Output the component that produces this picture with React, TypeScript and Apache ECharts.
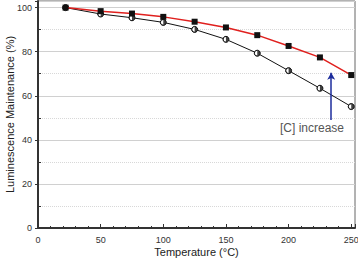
import React, { useEffect, useRef } from "react";
import * as echarts from "echarts";

const temps = [22, 50, 75, 100, 125, 150, 175, 200, 225, 250];
const redValues = [100, 98.4, 97.3, 95.8, 93.6, 91.0, 87.5, 82.6, 77.4, 69.4];
const blackValues = [100, 97.1, 95.4, 93.3, 90.1, 85.6, 79.3, 71.4, 63.4, 55.1];
const arrowX = 234;
const arrowFrom = 49;
const arrowTo = 70.5;
const annotation = "[C] increase";

const halfCircle =
  "path://M0,-5 A5,5 0 1,1 0,5 A5,5 0 1,1 0,-5 Z M0,-4 A4,4 0 1,0 0,4 A4,4 0 1,0 0,-4 Z M0,-4 A4,4 0 0,1 0,4 Z";

export default function App() {
  const ref = useRef<HTMLDivElement>(null);
  useEffect(() => {
    if (!ref.current) return;
    const chart = echarts.init(ref.current, null, { renderer: "svg" });
    const font = "Liberation Sans, Arial, sans-serif";
    chart.setOption({
      animation: false,
      textStyle: { fontFamily: font },
      grid: {
        left: 38,
        right: 3,
        top: 1,
        bottom: 36,
        containLabel: false,
        outerBoundsMode: "none",
        show: true,
        borderColor: "#666",
        borderWidth: 1,
      },
      xAxis: {
        type: "value",
        min: 0,
        max: 253,
        interval: 50,
        name: "Temperature (°C)",
        nameLocation: "middle",
        nameGap: 18,
        nameMoveOverlap: false,
        nameTextStyle: { fontSize: 11, color: "#222", fontFamily: font },
        axisLine: { show: true, lineStyle: { color: "#333", width: 2 } },
        axisTick: { show: true, inside: true, length: 4, lineStyle: { color: "#333" } },
        minorTick: { show: true, splitNumber: 5, length: 2, lineStyle: { color: "#333" } },
        axisLabel: { fontSize: 9, color: "#333", showMaxLabel: false, margin: 7 },
        splitLine: { show: false },
      },
      yAxis: {
        type: "value",
        min: 0,
        max: 103,
        interval: 20,
        name: "Luminescence Maintenance (%)",
        nameLocation: "middle",
        nameGap: 23,
        nameMoveOverlap: false,
        nameTextStyle: { fontSize: 11, color: "#222", fontFamily: font },
        axisLine: { show: true, lineStyle: { color: "#333", width: 2 } },
        axisTick: { show: true, inside: false, length: 3, lineStyle: { color: "#333" } },
        minorTick: { show: true, splitNumber: 2, length: -3, lineStyle: { color: "#333" } },
        axisLabel: { fontSize: 9, color: "#333", showMaxLabel: false, margin: 6 },
        splitLine: { show: true, lineStyle: { color: "#d0d0d0", width: 1 } },
        minorSplitLine: { show: true, lineStyle: { color: "#d8d8d8", type: "dotted", width: 1 } },
      },
      series: [
        {
          type: "line",
          data: temps.map((t, i) => [t, blackValues[i]]),
          lineStyle: { color: "#111", width: 1 },
          symbol: "circle",
          symbolSize: 6,
          itemStyle: { color: "#fff", borderColor: "#111", borderWidth: 1 },
          z: 2,
        },
        {
          type: "scatter",
          data: temps.map((t, i) => [t, blackValues[i]]),
          symbol: halfCircle,
          symbolSize: 6,
          itemStyle: { color: "#111" },
          z: 3,
        },
        {
          type: "line",
          data: temps.map((t, i) => [t, redValues[i]]),
          lineStyle: { color: "#e0201e", width: 1.5 },
          symbol: "rect",
          symbolSize: 6,
          itemStyle: { color: "#111" },
          z: 4,
          markLine: {
            silent: true,
            symbol: ["none", "arrow"],
            symbolSize: [6, 7],
            label: { show: false },
            lineStyle: { color: "#1c2c9c", width: 1.5, type: "solid" },
            data: [[{ coord: [arrowX, arrowFrom] }, { coord: [arrowX, arrowTo] }]],
          },
        },
      ],
      graphic: [
        {
          type: "text",
          left: 280,
          top: 122,
          style: { text: annotation, fontSize: 12, fill: "#555", fontFamily: font },
        },
      ],
    });
    return () => chart.dispose();
  }, []);
  return (
    <div
      ref={ref}
      style={{ position: "fixed", left: 0, top: 0, width: 358, height: 264, background: "#fff" }}
    />
  );
}
